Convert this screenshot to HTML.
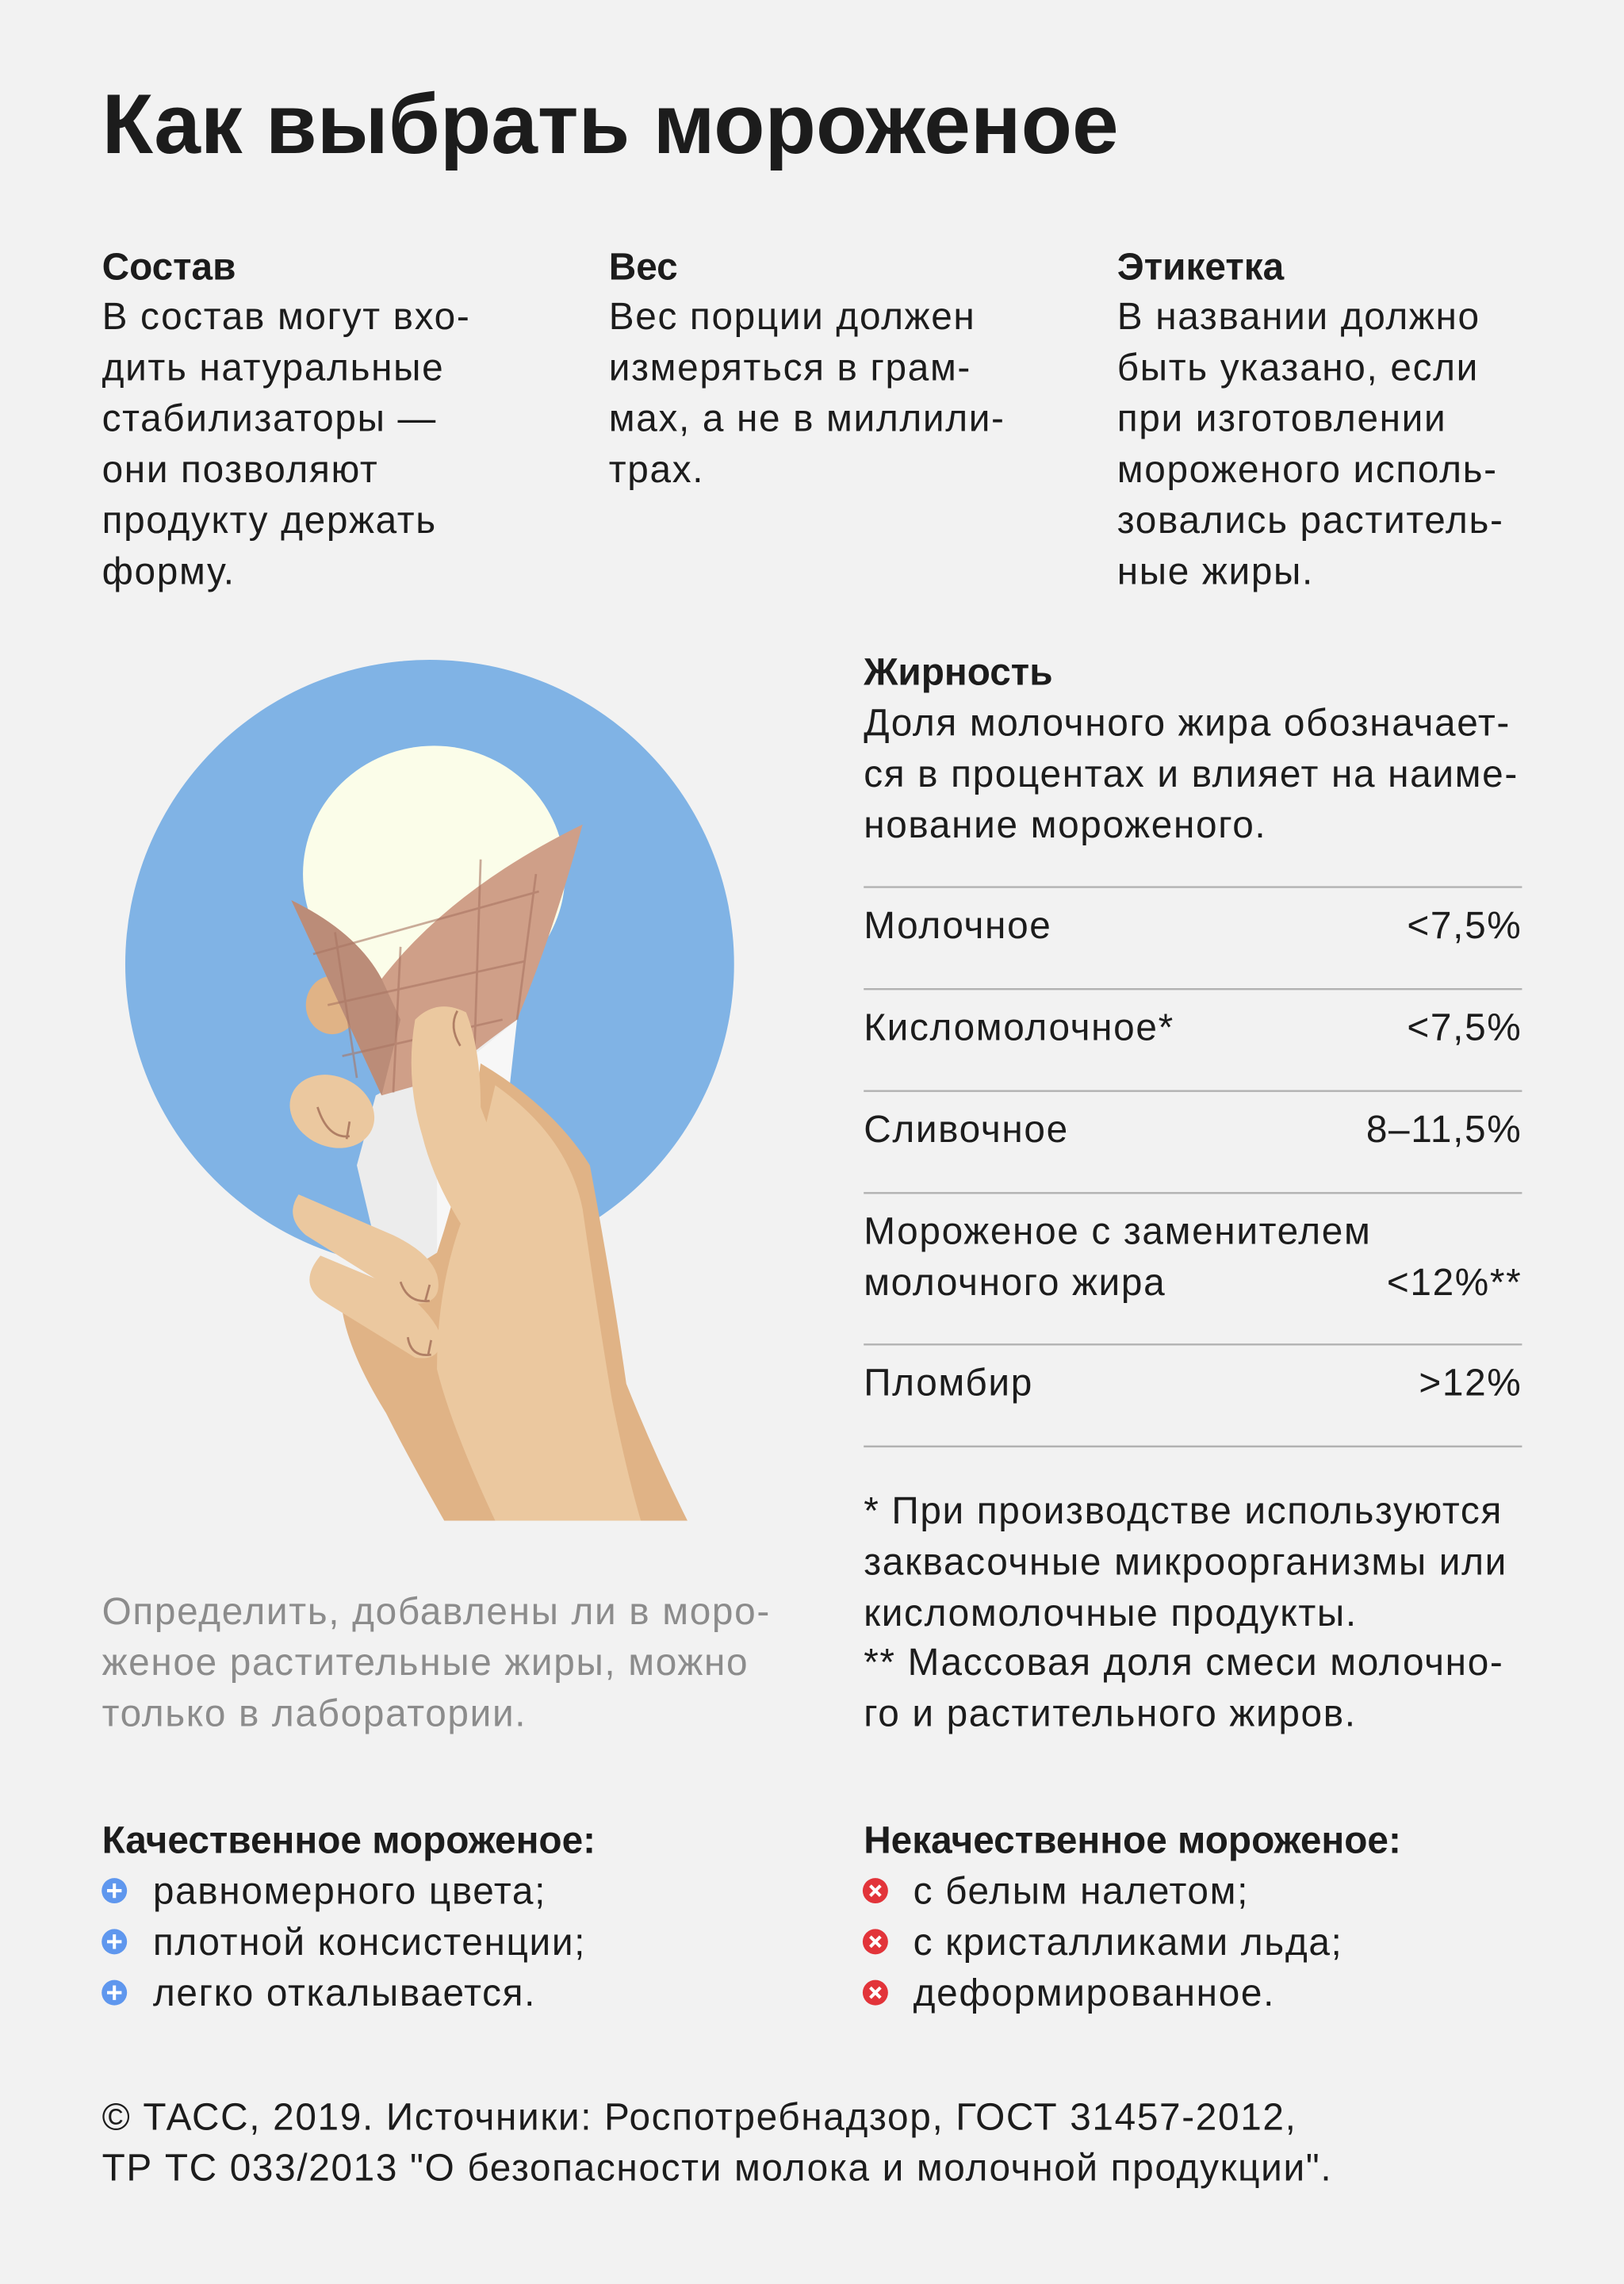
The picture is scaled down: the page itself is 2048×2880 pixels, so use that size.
<!DOCTYPE html>
<html><head><meta charset="utf-8"><style>
html,body{margin:0;padding:0;background:#f2f2f2;}
svg{display:block;}
text{font-family:"Liberation Sans","Noto Sans CJK SC",sans-serif;fill:#1c1c1c;}
.b{font-size:26px;letter-spacing:0.9px;}
.h{font-size:26px;font-weight:bold;letter-spacing:0;}
.g{fill:#8c8c8c;}
</style></head><body>
<svg width="2048" height="2880" viewBox="0 0 1115 1568" xmlns="http://www.w3.org/2000/svg">
<rect width="1115" height="1568" fill="#f2f2f2"/>
<text x="70" y="105" font-size="58" font-weight="bold" textLength="698" lengthAdjust="spacingAndGlyphs">Как выбрать мороженое</text>

<g class="b">
<text class="h" x="70" y="192">Состав</text>
<text x="70" y="226">В состав могут вхо-</text>
<text x="70" y="261">дить натуральные</text>
<text x="70" y="296">стабилизаторы —</text>
<text x="70" y="331">они позволяют</text>
<text x="70" y="366">продукту держать</text>
<text x="70" y="401">форму.</text>

<text class="h" x="418" y="192">Вес</text>
<text x="418" y="226">Вес порции должен</text>
<text x="418" y="261">измеряться в грам-</text>
<text x="418" y="296">мах, а не в миллили-</text>
<text x="418" y="331">трах.</text>

<text class="h" x="767" y="192">Этикетка</text>
<text x="767" y="226">В названии должно</text>
<text x="767" y="261">быть указано, если</text>
<text x="767" y="296">при изготовлении</text>
<text x="767" y="331">мороженого исполь-</text>
<text x="767" y="366">зовались раститель-</text>
<text x="767" y="401">ные жиры.</text>

<text class="h" x="593" y="470">Жирность</text>
<text x="593" y="505">Доля молочного жира обозначает-</text>
<text x="593" y="540">ся в процентах и влияет на наиме-</text>
<text x="593" y="575">нование мороженого.</text>
</g>

<g stroke="#b2b2b2" stroke-width="1.3">
<line x1="593" y1="609" x2="1045" y2="609"/>
<line x1="593" y1="679" x2="1045" y2="679"/>
<line x1="593" y1="749" x2="1045" y2="749"/>
<line x1="593" y1="819" x2="1045" y2="819"/>
<line x1="593" y1="923" x2="1045" y2="923"/>
<line x1="593" y1="993" x2="1045" y2="993"/>
</g>
<g class="b">
<text x="593" y="644">Молочное</text><text x="1045" y="644" text-anchor="end">&lt;7,5%</text>
<text x="593" y="714">Кисломолочное*</text><text x="1045" y="714" text-anchor="end">&lt;7,5%</text>
<text x="593" y="784">Сливочное</text><text x="1045" y="784" text-anchor="end">8–11,5%</text>
<text x="593" y="854">Мороженое с заменителем</text>
<text x="593" y="889">молочного жира</text><text x="1045" y="889" text-anchor="end">&lt;12%**</text>
<text x="593" y="958">Пломбир</text><text x="1045" y="958" text-anchor="end">&gt;12%</text>

<text x="593" y="1046">* При производстве используются</text>
<text x="593" y="1081">заквасочные микроорганизмы или</text>
<text x="593" y="1116">кисломолочные продукты.</text>
<text x="593" y="1150">** Массовая доля смеси молочно-</text>
<text x="593" y="1185">го и растительного жиров.</text>

<text class="g" x="70" y="1115">Определить, добавлены ли в моро-</text>
<text class="g" x="70" y="1150">женое растительные жиры, можно</text>
<text class="g" x="70" y="1185">только в лаборатории.</text>

<text class="h" x="70" y="1272">Качественное мороженое:</text>
<text x="105" y="1307">равномерного цвета;</text>
<text x="105" y="1342">плотной консистенции;</text>
<text x="105" y="1377">легко откалывается.</text>

<text class="h" x="593" y="1272">Некачественное мороженое:</text>
<text x="627" y="1307">с белым налетом;</text>
<text x="627" y="1342">с кристалликами льда;</text>
<text x="627" y="1377">деформированное.</text>

<text x="70" y="1462">© ТАСС, 2019. Источники: Роспотребнадзор, ГОСТ 31457-2012,</text>
<text x="70" y="1497">ТР ТС 033/2013 "О безопасности молока и молочной продукции".</text>
</g>

<!-- bullets -->
<g>
<g fill="#5f97ee"><circle cx="78.5" cy="1298" r="8.7"/><circle cx="78.5" cy="1333" r="8.7"/><circle cx="78.5" cy="1368" r="8.7"/></g>
<g stroke="#fff" stroke-width="2.2">
<path d="M73.5 1298h10M78.5 1293v10M73.5 1333h10M78.5 1328v10M73.5 1368h10M78.5 1363v10"/>
</g>
<g fill="#e2343a"><circle cx="601" cy="1298" r="8.7"/><circle cx="601" cy="1333" r="8.7"/><circle cx="601" cy="1368" r="8.7"/></g>
<g stroke="#fff" stroke-width="2.2">
<path d="M597.5 1294.5l7 7M604.5 1294.5l-7 7M597.5 1329.5l7 7M604.5 1329.5l-7 7M597.5 1364.5l7 7M604.5 1364.5l-7 7"/>
</g>
</g>

<!-- illustration -->
<circle cx="295" cy="662" r="209" fill="#80b3e5"/>
<ellipse cx="298" cy="600" rx="90" ry="88" fill="#fbfde9"/>
<ellipse cx="228" cy="690" rx="18" ry="20" fill="#e0b386"/>
<polygon points="258,752 355,700 340,800 300,985 290,990 245,800" fill="#ececec"/>
<polygon points="300,745 355,700 345,790 300,985" fill="#f7f7f7"/>
<path d="M200,618 Q245,640 262,672 Q310,610 400,566 Q380,640 355,700 Q320,725 305,740 L262,752 Z" fill="#cf9f88"/>
<path d="M200,618 Q245,640 262,672 L275,700 L262,752 Z" fill="#bb8c78"/>
<g stroke="#a87563" stroke-width="1.5" fill="none" opacity="0.6">
<path d="M215,655 L370,612 M225,690 L360,660 M235,725 L345,700 M330,590 L325,745 M368,600 L355,700 M275,650 L270,750 M230,640 L245,740"/>
</g>
<path d="M330,730 Q380,760 405,800 Q420,880 430,950 Q450,1000 472,1044 L305,1044 Q280,1000 265,970 Q240,930 235,900 L300,860 Q320,800 330,730 Z" fill="#e0b386"/>
<path d="M340,745 Q390,780 400,830 Q410,900 420,960 Q430,1010 440,1044 L340,1044 Q310,980 300,940 Q300,880 320,830 Z" fill="#ebc89f"/>
<path d="M285,700 Q300,685 320,695 Q330,720 330,760 Q345,800 360,830 L330,860 Q300,820 290,780 Q278,740 285,700 Z" fill="#ebc89f"/>
<path d="M314,694 Q308,705 316,718" stroke="#b07f65" stroke-width="1.5" fill="none"/>
<ellipse cx="228" cy="763" rx="30" ry="24" transform="rotate(25 228 763)" fill="#ebc89f"/>
<path d="M218,760 Q225,782 240,780 M240,770 L238,782" stroke="#b07f65" stroke-width="1.5" fill="none"/>
<path d="M205,820 Q195,835 210,848 L285,895 Q305,895 300,875 Q295,860 270,848 Z" fill="#ebc89f"/>
<path d="M220,862 Q205,880 220,892 L285,932 Q305,935 302,915 Q295,900 275,885 Z" fill="#ebc89f"/>
<path d="M275,880 Q280,895 295,893 M295,882 L292,893 M280,918 Q282,932 296,930 M296,920 L294,930" stroke="#b07f65" stroke-width="1.5" fill="none"/>
</svg>
</body></html>
